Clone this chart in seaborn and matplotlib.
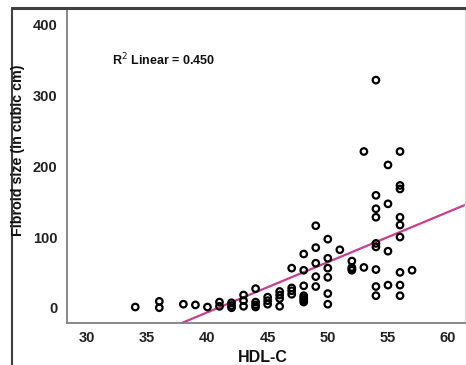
import numpy as np
import pandas as pd
import matplotlib
matplotlib.use("Agg")
import matplotlib.pyplot as plt
from matplotlib.lines import Line2D
import seaborn as sns

# HDL-C values (x) and fibroid size (y)
hdl = [34, 36, 36, 38, 39, 40, 41, 41, 42, 42, 42,
       43, 43, 43, 44, 44, 44, 44, 45, 45, 45,
       46, 46, 46, 46, 47, 47, 47, 47,
       48, 48, 48, 48, 48, 48, 48,
       49, 49, 49, 49, 49,
       50, 50, 50, 50, 50, 50,
       51, 52, 52, 52, 52, 53, 53,
       54, 54, 54, 54, 54, 54, 54, 54, 54,
       55, 55, 55, 55,
       56, 56, 56, 56, 56, 56, 56, 56, 56,
       57]
fibroid = [1, 9, 0, 5, 4, 1, 8, 2, 7, 3, 0,
           18, 10, 2, 27, 8, 4, 1, 15, 10, 5,
           23, 18, 13, 2, 56, 28, 24, 19,
           76, 53, 31, 17, 14, 11, 8,
           116, 85, 63, 44, 30,
           97, 70, 56, 43, 20, 5,
           82, 66, 57, 55, 53, 57, 221,
           322, 159, 140, 128, 91, 86, 54, 30, 17,
           202, 147, 80, 32,
           221, 173, 168, 128, 117, 100, 50, 32, 17,
           53]

x_ticks = [30, 35, 40, 45, 50, 55, 60]
y_ticks = [0, 100, 200, 300, 400]

df = pd.DataFrame({"HDL-C": hdl, "Fibroid size (in cubic cm)": fibroid})

sns.set_style("white")
plt.rcParams["font.family"] = ["Liberation Sans", "DejaVu Sans"]

fig = plt.figure(figsize=(4.66, 3.65), dpi=100)
ax = fig.add_axes([67 / 466, 1 - 323 / 365, 398 / 466, 315 / 365])
ax.set_xlim(28.33, 61.4)
ax.set_ylim(-21.6, 424)

sns.scatterplot(data=df, x="HDL-C", y="Fibroid size (in cubic cm)", ax=ax,
                marker="o", s=22, facecolor="none", edgecolor="black",
                linewidth=1.6, zorder=3)
sns.regplot(data=df, x="HDL-C", y="Fibroid size (in cubic cm)", ax=ax,
            scatter=False, ci=None, truncate=False,
            line_kws=dict(color="#cc3d8f", lw=1.6, zorder=2))
ax.set_xlim(28.33, 61.4)
ax.set_ylim(-21.6, 424)

ax.set_xticks(x_ticks)
ax.set_yticks(y_ticks)
ax.set_xticklabels([str(t) for t in x_ticks], fontsize=10.5, fontweight="bold", color="#222222")
ax.set_yticklabels([str(t) for t in y_ticks], fontsize=10.5, fontweight="bold", color="#222222")
ax.tick_params(axis="x", direction="out", length=4, width=1.2, color="#777777", pad=2)
ax.tick_params(axis="y", direction="out", length=6, width=1.2, color="#777777", pad=1)

for side in ["left", "bottom"]:
    ax.spines[side].set_color("#808080")
    ax.spines[side].set_linewidth(1.3)
ax.spines["top"].set_visible(False)
ax.spines["right"].set_color("#dddddd")
ax.spines["right"].set_linewidth(1.0)

ax.set_xlabel("")
ax.set_ylabel("")
fig.text(18 / 466, 1 - 150 / 365, "Fibroid size (in cubic cm)", rotation=90,
         ha="center", va="center", fontsize=10.3, fontweight="bold", color="#111111")
fig.text(263 / 466, 1 - 358 / 365, "HDL-C", ha="center", va="center",
         fontsize=11.5, fontweight="bold", color="#111111")

ax.text(0.113, 0.835, r"R$^{2}$ Linear = 0.450", transform=ax.transAxes,
        ha="left", va="center", fontsize=9, fontweight="bold", color="#111111")

# outer frame lines (top and left)
fig.add_artist(Line2D([12 / 466, 1], [1 - 7.5 / 365, 1 - 7.5 / 365],
                      transform=fig.transFigure, color="#404040", lw=2.2))
fig.add_artist(Line2D([12 / 466, 12 / 466], [0, 1 - 7.5 / 365],
                      transform=fig.transFigure, color="#404040", lw=1.5))

fig.savefig("out.png", dpi=100)
